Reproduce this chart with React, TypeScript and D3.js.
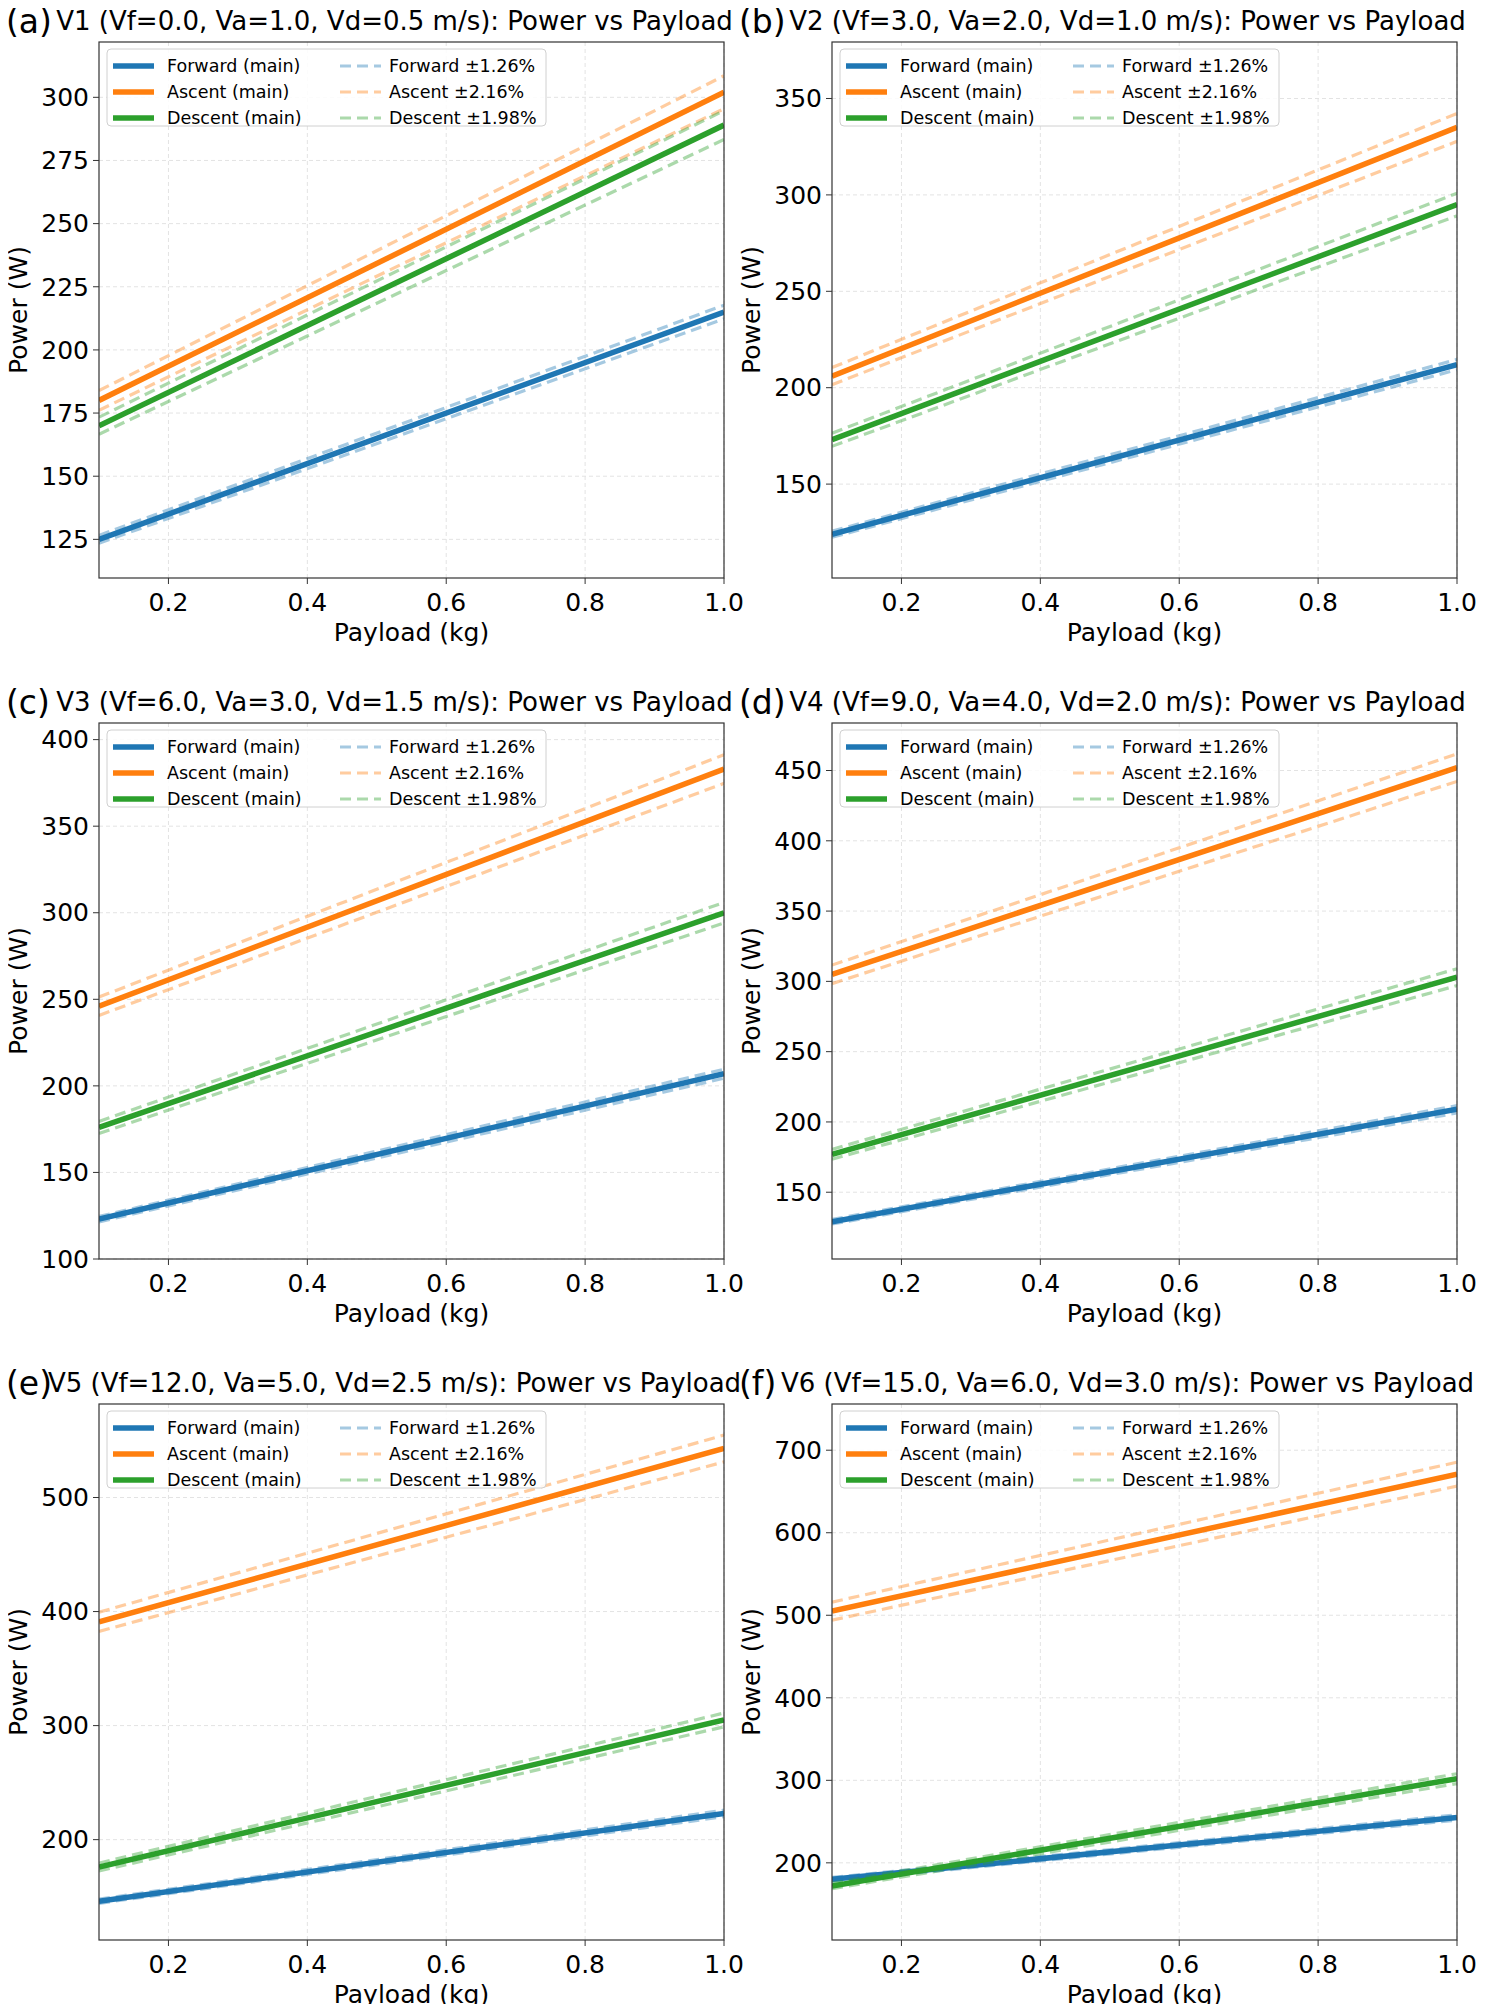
import { useMemo } from 'react';
import * as d3 from 'd3';

// Payload endpoints (kg)
const payload = [0.1, 1.0];

const panelLabels = ['(a)', '(b)', '(c)', '(d)', '(e)', '(f)'];
const titles = [
  'V1 (Vf=0.0, Va=1.0, Vd=0.5 m/s): Power vs Payload',
  'V2 (Vf=3.0, Va=2.0, Vd=1.0 m/s): Power vs Payload',
  'V3 (Vf=6.0, Va=3.0, Vd=1.5 m/s): Power vs Payload',
  'V4 (Vf=9.0, Va=4.0, Vd=2.0 m/s): Power vs Payload',
  'V5 (Vf=12.0, Va=5.0, Vd=2.5 m/s): Power vs Payload',
  'V6 (Vf=15.0, Va=6.0, Vd=3.0 m/s): Power vs Payload',
];

// power (W) at the payload endpoints
const forward = [[125, 215], [124, 212], [123, 207], [129, 209], [146, 223], [180, 255]];
const ascent = [[180, 302], [206, 335], [246, 383], [305, 452], [391, 543], [505, 671]];
const descent = [[170, 289], [173, 295], [176, 300], [177, 303], [176, 305], [172, 302]];

const yDomains = [[109.7, 321.9], [101.3, 379.3], [100, 409.6], [102.5, 483.8], [112, 582], [106.5, 756]];
const yTicks = [
  [125, 150, 175, 200, 225, 250, 275, 300],
  [150, 200, 250, 300, 350],
  [100, 150, 200, 250, 300, 350, 400],
  [150, 200, 250, 300, 350, 400, 450],
  [200, 300, 400, 500],
  [200, 300, 400, 500, 600, 700],
];
const xTicks = [0.2, 0.4, 0.6, 0.8, 1.0];

const seriesNames = ['Forward', 'Ascent', 'Descent'];
const bandPct = [1.26, 2.16, 1.98];
const colors = ['#1f77b4', '#ff7f0e', '#2ca02c'];

const FONT = 'DejaVu Sans, sans-serif';
const colX = [99, 832];
const rowY = [42, 723, 1404];
const PW = 625;
const PH = 536;

function Panel({ i }: { i: number }) {
  const left = colX[i % 2];
  const top = rowY[Math.floor(i / 2)];
  const x = d3.scaleLinear().domain([0.1, 1.0]).range([0, PW]);
  const y = d3.scaleLinear().domain(yDomains[i]).range([PH, 0]);
  const line = d3.line<[number, number]>().x(d => x(d[0])).y(d => y(d[1]));
  const data = [forward[i], ascent[i], descent[i]];
  const pts = (vals: number[], f = 1) => payload.map((p, k) => [p, vals[k] * f] as [number, number]);

  return (
    <g transform={`translate(${left},${top})`}>
      <defs>
        <clipPath id={`clip${i}`}><rect width={PW} height={PH} /></clipPath>
      </defs>
      {xTicks.map(t => (
        <line key={'gx' + t} x1={x(t)} x2={x(t)} y1={0} y2={PH} stroke="#e3e3e3" strokeDasharray="4,3" strokeWidth={1} />
      ))}
      {yTicks[i].map(t => (
        <line key={'gy' + t} x1={0} x2={PW} y1={y(t)} y2={y(t)} stroke="#e3e3e3" strokeDasharray="4,3" strokeWidth={1} />
      ))}
      <g clipPath={`url(#clip${i})`}>
        {data.map((vals, s) => (
          <g key={s}>
            <path d={line(pts(vals))!} fill="none" stroke={colors[s]} strokeWidth={5.5} />
            {[1 + bandPct[s] / 100, 1 - bandPct[s] / 100].map((f, k) => (
              <path key={k} d={line(pts(vals, f))!} fill="none" stroke={colors[s]} strokeOpacity={0.4} strokeWidth={3.2} strokeDasharray="11,6" />
            ))}
          </g>
        ))}
      </g>
      <rect width={PW} height={PH} fill="none" stroke="#333" strokeWidth={1.2} />
      {xTicks.map(t => (
        <g key={'xt' + t} transform={`translate(${x(t)},${PH})`}>
          <line y2={6} stroke="#333" />
          <text y={33} textAnchor="middle" fontSize={25} fontFamily={FONT}>{t.toFixed(1)}</text>
        </g>
      ))}
      {yTicks[i].map(t => (
        <g key={'yt' + t} transform={`translate(0,${y(t)})`}>
          <line x2={-6} stroke="#333" />
          <text x={-10} dy="0.35em" textAnchor="end" fontSize={25} fontFamily={FONT}>{t}</text>
        </g>
      ))}
      <text x={PW / 2} y={PH + 63} textAnchor="middle" fontSize={25} fontFamily={FONT}>Payload (kg)</text>
      <text transform={`translate(-72,${PH / 2}) rotate(-90)`} textAnchor="middle" fontSize={25} fontFamily={FONT}>Power (W)</text>
      <text x={PW / 2 - 17} y={-12} textAnchor="middle" fontSize={26} fontFamily={FONT}>{titles[i]}</text>
      <text x={-93} y={-9} fontSize={33} fontFamily={FONT}>{panelLabels[i]}</text>
      <g transform="translate(8,7)">
        <rect width={439} height={77} rx={4} fill="white" fillOpacity={0.85} stroke="#d0d0d0" />
        {seriesNames.map((n, s) => (
          <g key={n} transform={`translate(0,${17 + s * 26})`}>
            <line x1={6} x2={47} stroke={colors[s]} strokeWidth={5.5} />
            <text x={60} dy="0.35em" fontSize={17.5} fontFamily={FONT}>{n} (main)</text>
            <line x1={233} x2={274} stroke={colors[s]} strokeOpacity={0.4} strokeWidth={3.2} strokeDasharray="11,6" />
            <text x={282} dy="0.35em" fontSize={17.5} fontFamily={FONT}>{`${n} ±${bandPct[s].toFixed(2)}%`}</text>
          </g>
        ))}
      </g>
    </g>
  );
}

export default function App() {
  const panels = useMemo(() => d3.range(6), []);
  return (
    <svg width={1490} height={2012} style={{ display: 'block', margin: -8, background: 'white' }}>
      {panels.map(i => <Panel key={i} i={i} />)}
    </svg>
  );
}
